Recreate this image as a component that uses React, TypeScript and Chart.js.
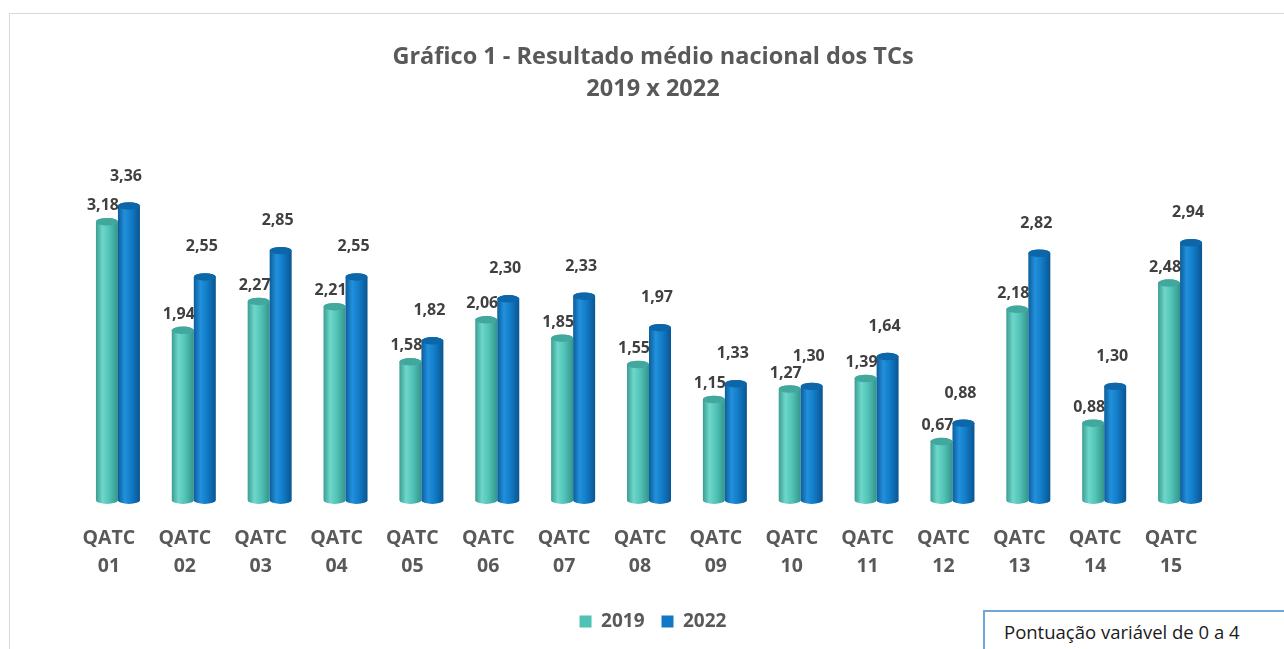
import React, { useEffect, useRef } from "react";
import { Chart, registerables } from "chart.js";

Chart.register(...registerables);

const categories: string[][] = [
  ["QATC", "01"], ["QATC", "02"], ["QATC", "03"], ["QATC", "04"], ["QATC", "05"],
  ["QATC", "06"], ["QATC", "07"], ["QATC", "08"], ["QATC", "09"], ["QATC", "10"],
  ["QATC", "11"], ["QATC", "12"], ["QATC", "13"], ["QATC", "14"], ["QATC", "15"],
];
const series2019: number[] = [3.18, 1.94, 2.27, 2.21, 1.58, 2.06, 1.85, 1.55, 1.15, 1.27, 1.39, 0.67, 2.18, 0.88, 2.48];
const series2022: number[] = [3.36, 2.55, 2.85, 2.55, 1.82, 2.30, 2.33, 1.97, 1.33, 1.30, 1.64, 0.88, 2.82, 1.30, 2.94];
const seriesNames: string[] = ["2019", "2022"];
const titleLines: string[] = ["Gráfico 1 - Resultado médio nacional dos TCs", "2019 x 2022"];
const noteText = "Pontuação variável de 0 a 4";

const FONT = "'Open Sans', sans-serif";
const GRAY = "#595959";

const palettes = [
  { base: "#4fc1b5", edge: "#3a9d92", light: "#6fd6ca", mid: "#52c4b8", dark: "#34948a", cap: "#42a89d" },
  { base: "#1078c4", edge: "#0c5d9a", light: "#2290dc", mid: "#127cc8", dark: "#0a5590", cap: "#0d66a8" },
];

const labelOffsets = [
  { dx: -4, dy: -16 },
  { dx: -3, dy: -30 },
];

const cylinderPlugin = {
  id: "cylinders",
  beforeDatasetDraw() {
    return false;
  },
  afterDatasetsDraw(chart: any) {
    const ctx: CanvasRenderingContext2D = chart.ctx;
    ctx.save();
    chart.data.datasets.forEach((_ds: any, di: number) => {
      const meta = chart.getDatasetMeta(di);
      const pal = palettes[di];
      meta.data.forEach((el: any) => {
        const { x, y, base, width } = el.getProps(["x", "y", "base", "width"], true);
        const l = x - width / 2;
        const r = x + width / 2;
        const ry = width * 0.17;
        const g = ctx.createLinearGradient(l, 0, r, 0);
        g.addColorStop(0, pal.edge);
        g.addColorStop(0.3, pal.light);
        g.addColorStop(0.6, pal.mid);
        g.addColorStop(1, pal.dark);
        ctx.fillStyle = g;
        ctx.beginPath();
        ctx.moveTo(l, y);
        ctx.lineTo(l, base);
        ctx.ellipse(x, base, width / 2, ry, 0, Math.PI, 0, true);
        ctx.lineTo(r, y);
        ctx.ellipse(x, y, width / 2, ry, 0, 0, Math.PI, true);
        ctx.closePath();
        ctx.fill();
        ctx.fillStyle = pal.cap;
        ctx.beginPath();
        ctx.ellipse(x, y, width / 2, ry, 0, 0, Math.PI * 2);
        ctx.fill();
      });
    });
    ctx.font = `bold 16px ${FONT}`;
    ctx.fillStyle = "#404040";
    ctx.textAlign = "center";
    ctx.textBaseline = "middle";
    chart.data.datasets.forEach((ds: any, di: number) => {
      const meta = chart.getDatasetMeta(di);
      const off = labelOffsets[di];
      meta.data.forEach((el: any, i: number) => {
        const { x, y } = el.getProps(["x", "y"], true);
        const txt = Number(ds.data[i]).toFixed(2).replace(".", ",");
        ctx.fillText(txt, x + off.dx, y + off.dy);
      });
    });
    ctx.restore();
  },
};

export default function App() {
  const canvasRef = useRef<HTMLCanvasElement | null>(null);

  useEffect(() => {
    document.body.style.overflow = "hidden";
    const canvas = canvasRef.current;
    if (!canvas) return;
    const chart = new Chart(canvas, {
      type: "bar",
      data: {
        labels: categories,
        datasets: [
          { label: seriesNames[0], data: series2019, backgroundColor: palettes[0].base, borderWidth: 0 },
          { label: seriesNames[1], data: series2022, backgroundColor: palettes[1].base, borderWidth: 0 },
        ],
      },
      options: {
        animation: false,
        responsive: false,
        maintainAspectRatio: false,
        layout: { padding: { left: 70, right: 68, top: 0, bottom: 14 } },
        datasets: { bar: { barPercentage: 1, categoryPercentage: 0.58 } },
        scales: {
          x: {
            grid: { display: false, drawTicks: false },
            border: { display: false },
            afterFit(scale: any) {
              scale.height -= 9;
            },
            ticks: {
              color: GRAY,
              font: { family: FONT, size: 19.5, weight: "bold", lineHeight: 1.43 },
              padding: 24,
              labelOffset: -9,
              maxRotation: 0,
              autoSkip: false,
            },
          },
          y: {
            display: true,
            position: "right",
            min: 0,
            max: 4,
            grid: { display: false, drawTicks: false },
            border: { display: false },
            ticks: { display: false },
            afterFit(scale: any) {
              scale.width = 8;
            },
          },
        },
        plugins: {
          title: {
            display: true,
            text: titleLines,
            color: GRAY,
            font: { family: FONT, size: 23.5, weight: "bold", lineHeight: 1.36 },
            padding: { top: 27, bottom: 45 },
          },
          legend: {
            position: "bottom",
            labels: {
              boxWidth: 12,
              boxHeight: 12,
              padding: 17,
              color: GRAY,
              font: { family: FONT, size: 19, weight: "bold" },
            },
          },
          tooltip: { enabled: false },
        },
      },
      plugins: [cylinderPlugin],
    });
    return () => chart.destroy();
  }, []);

  return (
    <div style={{ position: "fixed", left: 0, top: 0, right: 0, bottom: 0, overflow: "hidden", background: "#fff" }}>
      <div
        style={{
          position: "absolute",
          left: 9,
          top: 13,
          width: 1290,
          height: 660,
          border: "1px solid #d9d9d9",
          boxSizing: "border-box",
        }}
      >
        <canvas ref={canvasRef} width={1284} height={641} style={{ display: "block", width: 1284, height: 641 }} />
      </div>
      <div
        style={{
          position: "absolute",
          left: 983,
          top: 610,
          width: 320,
          height: 60,
          border: "2px solid #6fa6da",
          boxSizing: "border-box",
          background: "#fff",
          fontFamily: FONT,
          fontSize: 18.5,
          color: "#1a1a1a",
          paddingLeft: 19,
          paddingTop: 7,
          whiteSpace: "nowrap",
        }}
      >
        {noteText}
      </div>
    </div>
  );
}
